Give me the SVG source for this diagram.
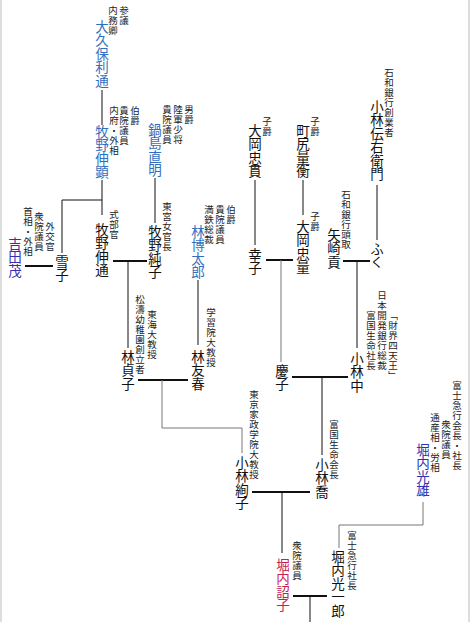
<svg xmlns="http://www.w3.org/2000/svg" width="470" height="622" viewBox="0 0 470 622">
<style>
text{font-family:"Noto Sans CJK JP","Noto Sans CJK SC",sans-serif;writing-mode:vertical-rl;}
.n{font-size:13.5px;fill:#111}
.a{font-size:9.5px;letter-spacing:0.5px;fill:#222}
.b{fill:#2f6fc0}
.d{fill:#3030b0}
.r{fill:#c8204e}
.l{fill:none;stroke:#111;stroke-width:1}
.m{fill:none;stroke:#111;stroke-width:2}
.g{fill:none;stroke:#777;stroke-width:1}
.f{stroke:#ddd;stroke-width:2}
</style>
<rect width="470" height="622" fill="#fff"/>
<line class="f" x1="1" y1="0" x2="1" y2="622"/>
<line class="f" x1="469" y1="0" x2="469" y2="622"/>
<g id="connectors">
<path class="l" d="M102,90V125"/>
<path class="l" d="M102,180V215M102,200H62V253"/>
<path class="m" d="M25,266H53"/>
<path class="l" d="M155,178V223"/>
<path class="m" d="M113,261H147"/>
<path class="l" d="M128,261V348"/>
<path class="l" d="M198,280V345"/>
<path class="m" d="M138,380H188"/>
<path class="g" d="M162,380V428H242V453"/>
<path class="l" d="M255,180V245"/>
<path class="l" d="M303,180V215"/>
<path class="m" d="M266,260H293"/>
<path class="g" d="M281,260V362"/>
<path class="l" d="M377,185V240"/>
<path class="m" d="M343,261H370"/>
<path class="l" d="M357,261V348"/>
<path class="m" d="M292,377H348"/>
<path class="l" d="M322,377V455"/>
<path class="m" d="M252,492H310"/>
<path class="l" d="M282,492V553"/>
<path class="g" d="M423,502V525H339V548"/>
<path class="m" d="M293,596H327"/>
<path class="l" d="M310,596V622"/>
</g>
<g id="okubo"><text class="n b" x="102" y="20">大久保利通</text><text class="a" x="124" y="6">参議</text><text class="a" x="113" y="6">内務卿</text></g>
<g id="makino-nobuaki"><text class="n b" x="102" y="125">牧野伸顕</text><text class="a" x="135" y="106">伯爵</text><text class="a" x="124" y="106">貴院議員</text><text class="a" x="114" y="106">内府・外相</text></g>
<g id="yukiko"><text class="n" x="62" y="255">雪子</text><text class="a" x="50" y="222">外交官</text><text class="a" x="39" y="212">衆院議員</text><text class="a" x="28" y="207">首相・外相</text></g>
<g id="yoshida"><text class="n d" x="15" y="237">吉田茂</text></g>
<g id="makino-nobumichi"><text class="n" x="102" y="223">牧野伸通</text><text class="a" x="114" y="210">式部官</text></g>
<g id="nabeshima"><text class="n b" x="155" y="123">鍋島直明</text><text class="a" x="189" y="105">男爵</text><text class="a" x="178" y="105">陸軍少将</text><text class="a" x="167" y="105">貴院議員</text></g>
<g id="makino-junko"><text class="n" x="155" y="225">牧野純子</text><text class="a" x="167" y="202">東宮女官長</text></g>
<g id="hayashi-hirotaro"><text class="n b" x="198" y="225">林博太郎</text><text class="a" x="231" y="205">伯爵</text><text class="a" x="220" y="205">貴院議員</text><text class="a" x="209" y="205">満鉄総裁</text></g>
<g id="hayashi-sadako"><text class="n" x="128" y="350">林貞子</text><text class="a" x="152" y="310">東海大教授</text><text class="a" x="140" y="295">松濤幼稚園創立者</text></g>
<g id="hayashi-tomoharu"><text class="n" x="198" y="350">林友春</text><text class="a" x="211" y="308">学習院大教授</text></g>
<g id="ooka-tadatsura"><text class="n" x="255" y="124">大岡忠貫</text><text class="a" x="267" y="117">子爵</text></g>
<g id="machijiri"><text class="n" x="303" y="124">町尻量衡</text><text class="a" x="315" y="117">子爵</text></g>
<g id="kobayashi-den"><text class="n" x="377" y="100">小林伝右衛門</text><text class="a" x="389" y="68">石和銀行創業者</text></g>
<g id="sachiko"><text class="n" x="255" y="248">幸子</text></g>
<g id="ooka-tadakazu"><text class="n" x="303" y="220">大岡忠量</text><text class="a" x="315" y="212">子爵</text></g>
<g id="yazaki"><text class="n" x="334" y="228">矢崎貢</text><text class="a" x="346" y="190">石和銀行頭取</text></g>
<g id="fuku"><text class="n" x="377" y="242">ふく</text></g>
<g id="keiko"><text class="n" x="282" y="364">慶子</text></g>
<g id="kobayashi-ataru"><text class="n" x="357" y="352">小林中</text><text class="a" x="393" y="311">「財界四天王」</text><text class="a" x="382" y="291">日本開発銀行総裁</text><text class="a" x="371" y="311">富国生命社長</text></g>
<g id="kobayashi-ayako"><text class="n" x="242" y="456">小林絢子</text><text class="a" x="254" y="390">東京家政学院大教授</text></g>
<g id="kobayashi-takashi"><text class="n" x="322" y="458">小林喬</text><text class="a" x="334" y="420">富国生命会長</text></g>
<g id="horiuchi-mitsuo"><text class="n d" x="423" y="443">堀内光雄</text><text class="a" x="457" y="381">富士急行会長・社長</text><text class="a" x="446" y="420">衆院議員</text><text class="a" x="435" y="413">通産相・労相</text></g>
<g id="horiuchi-koichiro"><text class="n" x="338" y="550">堀内光一郎</text><text class="a" x="352" y="531">富士急行社長</text></g>
<g id="horiuchi-noriko"><text class="n r" x="283" y="558">堀内詔子</text><text class="a" x="297" y="541">衆院議員</text></g>
</svg>
